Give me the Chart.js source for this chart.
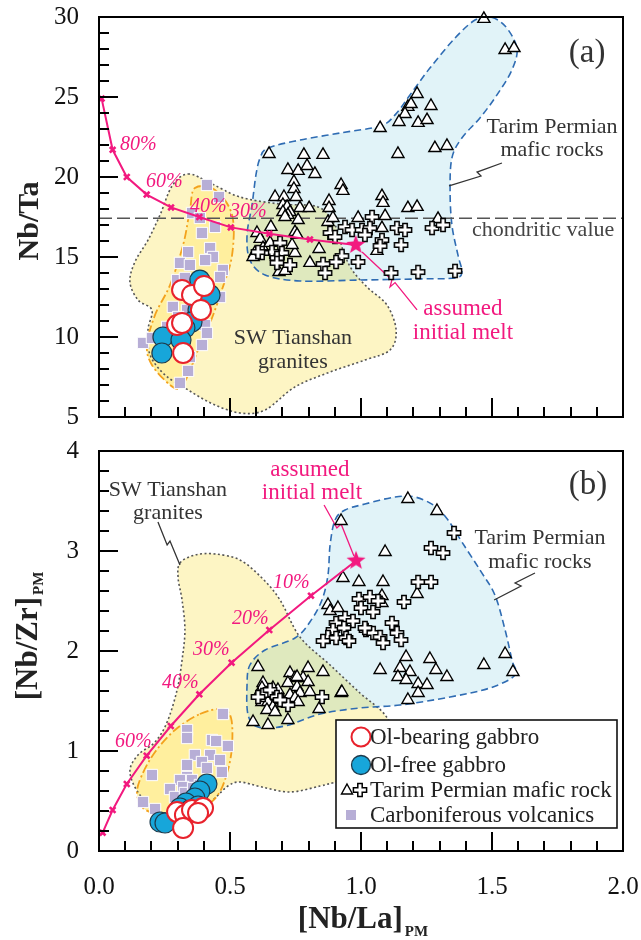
<!DOCTYPE html>
<html>
<head>
<meta charset="utf-8">
<script src="https://cdn.jsdelivr.net/npm/chart.js@4.4.0/dist/chart.umd.min.js"></script>
<style>
html, body { margin: 0; padding: 0; background: #fff; }
#wrapA { position: absolute; left: 0; top: 0; width: 641px; height: 432px; }
#wrapB { position: absolute; left: 0; top: 432px; width: 641px; height: 508px; }
</style>
</head>
<body>
<div id="wrapA"><canvas id="chartA"></canvas></div>
<div id="wrapB"><canvas id="chartB"></canvas></div>
<script>
var FONT = '"Liberation Serif", "Times New Roman", serif';
var MAGENTA = '#f2197f';

// shared x axis: [Nb/La]PM
var xTicks = [0, 0.5, 1.0, 1.5, 2.0];
var xTickLabels = ['0.0', '0.5', '1.0', '1.5', '2.0'];

// ---------- panel (a): Nb/Ta ----------
var yTicksA = [5, 10, 15, 20, 25, 30];
var chondriticNbTa = 17.42;

var meltA = [[0.01,24.9],[0.052,21.7],[0.106,20.0],[0.182,18.9],[0.275,18.1],[0.383,17.5],
  [0.503,16.85],[0.65,16.45],[0.805,16.1],[0.98,15.75]];

var olBearingA = [[0.317,12.94],[0.355,12.63],[0.401,13.19],[0.389,11.69],[0.298,10.75],[0.317,10.88],[0.321,9.0]];
var olFreeA = [[0.385,13.56],[0.424,12.63],[0.378,11.69],[0.355,10.94],[0.328,10.56],[0.244,10.0],[0.240,9.0],[0.313,9.81]];

var tarimTriA = [[1.469,29.88],[1.550,27.94],[1.584,28.06],[1.214,25.19],[1.179,24.38],[1.191,24.56],[1.168,23.94],
  [1.267,24.44],[1.145,23.44],[1.218,23.38],[1.252,23.56],[1.073,23.06],[1.282,21.81],[1.328,21.94],[1.141,21.44],
  [0.855,21.38],[0.924,19.5],[0.931,19.13],[1.080,18.81],[1.084,18.38],[0.878,18.5],[0.878,18.06],[1.179,18.06],
  [1.214,18.13],[0.649,21.44],[0.782,21.38],[0.721,20.44],[0.760,20.38],[0.794,20.69],[0.824,20.19],[0.744,19.69],
  [0.744,19.25],[0.672,18.75],[0.706,18.75],[0.752,18.75],[0.702,18.25],[0.718,18.13],[0.767,18.06],[0.802,18.06],
  [0.729,17.81],[0.721,17.63],[0.702,17.81],[0.760,17.31],[0.710,17.5],[0.656,16.88],[0.748,16.56],[0.756,16.38],
  [0.603,16.5],[0.615,16.13],[0.874,17.19],[0.893,17.44],[0.989,17.44],[1.092,17.56],[1.080,16.81],[1.294,17.38],
  [0.840,15.5],[1.061,15.38],[0.805,14.63],[0.687,14.06],[0.710,14.13],[0.748,15.25],[0.737,15.75],[0.626,15.56],
  [0.595,15.25],[0.653,15.88],[0.588,15.0]];

var tarimCrossA = [[1.042,17.5],[1.137,16.81],[1.168,16.69],[1.271,16.81],[1.313,17.0],[0.939,16.88],[0.966,16.69],
  [1.004,16.69],[1.034,16.81],[1.015,16.38],[0.882,16.5],[0.901,16.25],[1.080,16.06],[1.073,15.69],[1.153,15.75],
  [0.927,15.06],[0.989,14.69],[0.905,14.69],[0.855,14.56],[0.863,14.0],[1.115,14.0],[1.218,14.06],[1.359,14.13],
  [0.691,15.88],[0.698,15.25],[0.660,15.31],[0.622,15.25],[0.729,14.5],[0.679,14.94],[0.607,15.31],[0.679,14.63]];

var carbVolcA = [[0.412,19.5],[0.458,18.75],[0.355,17.75],[0.385,17.44],[0.443,16.88],[0.393,16.5],[0.340,15.31],
  [0.424,15.56],[0.435,15.0],[0.405,14.81],[0.309,14.63],[0.347,14.5],[0.473,14.19],[0.462,13.75],[0.298,13.56],
  [0.328,13.69],[0.462,12.5],[0.282,11.88],[0.336,11.69],[0.302,11.25],[0.405,10.75],[0.412,10.25],[0.393,9.5],
  [0.168,9.63],[0.202,9.94],[0.347,8.75],[0.340,7.88],[0.309,7.13],[0.282,10.25],[0.260,10.63]];

var graniteFieldA = [[0.340,20.19],[0.424,19.63],[0.538,18.75],[0.691,18.31],[0.836,18.13],[0.901,17.0],[0.931,15.44],
  [0.966,14.19],[1.027,13.06],[1.099,12.0],[1.134,10.44],[1.111,9.19],[1.015,8.56],[0.882,7.81],[0.748,6.88],
  [0.634,5.44],[0.538,5.25],[0.435,5.81],[0.340,6.69],[0.252,7.63],[0.195,8.88],[0.187,10.44],[0.202,11.69],
  [0.149,12.31],[0.118,13.44],[0.137,14.69],[0.187,16.06],[0.233,17.63],[0.279,19.44]];
var tarimFieldA = [[0.645,21.81],[0.767,22.31],[0.920,22.75],[1.073,23.19],[1.130,23.88],[1.187,25.13],[1.263,26.81],
  [1.359,28.69],[1.435,29.81],[1.492,30.0],[1.550,29.44],[1.595,28.06],[1.576,26.69],[1.519,25.13],[1.454,23.69],
  [1.385,22.44],[1.347,21.19],[1.340,19.19],[1.347,17.0],[1.370,15.13],[1.385,14.06],[1.359,13.69],[1.225,13.63],
  [0.996,13.56],[0.767,13.5],[0.634,13.88],[0.576,14.81],[0.565,16.38],[0.584,18.25],[0.599,20.13],[0.615,21.19]];
var volcFieldA = [[0.366,19.31],[0.443,19.19],[0.508,17.63],[0.508,15.13],[0.469,12.94],[0.424,10.88],[0.378,9.19],
  [0.340,7.63],[0.309,6.81],[0.271,7.0],[0.202,8.25],[0.183,9.5],[0.214,11.38],[0.271,13.25],[0.321,15.75],[0.347,17.94]];

// ---------- panel (b): [Nb/Zr]PM ----------
var yTicksB = [0, 1, 2, 3, 4];

var meltB = [[0.014,0.183],[0.052,0.41],[0.106,0.67],[0.182,0.953],[0.274,1.25],[0.383,1.567],[0.506,1.883],
  [0.650,2.21],[0.809,2.553],[0.981,2.903]];

var olBearingB = [[0.298,0.39],[0.328,0.36],[0.355,0.41],[0.397,0.43],[0.378,0.38],[0.321,0.23]];
var olFreeB = [[0.412,0.67],[0.385,0.60],[0.366,0.53],[0.332,0.48],[0.309,0.43],[0.233,0.29],[0.252,0.28],[0.378,0.45],[0.347,0.41]];

var tarimTriB = [[1.179,3.52],[1.290,3.40],[0.924,3.30],[1.092,2.99],[0.931,2.73],[0.992,2.69],[1.084,2.69],[1.214,2.57],
  [1.080,2.55],[1.080,2.48],[0.874,2.46],[0.882,2.40],[0.912,2.43],[1.172,1.94],[1.263,1.92],[1.550,1.97],[1.469,1.86],
  [1.580,1.79],[1.073,1.81],[1.149,1.83],[1.187,1.79],[1.141,1.74],[1.172,1.71],[1.286,1.81],[1.328,1.74],[1.218,1.67],
  [1.252,1.66],[1.218,1.58],[1.179,1.51],[0.855,1.79],[0.924,1.58],[0.607,1.84],[0.729,1.78],[0.748,1.73],[0.798,1.83],
  [0.779,1.73],[0.798,1.69],[0.626,1.68],[0.622,1.63],[0.664,1.63],[0.683,1.61],[0.721,1.68],[0.756,1.64],[0.767,1.58],
  [0.805,1.59],[0.927,1.59],[0.607,1.56],[0.622,1.49],[0.645,1.49],[0.664,1.44],[0.698,1.51],[0.710,1.48],[0.729,1.56],
  [0.748,1.53],[0.760,1.49],[0.641,1.41],[0.672,1.39],[0.721,1.31],[0.645,1.26],[0.588,1.29],[0.840,1.42],[0.756,1.74]];

var tarimCrossB = [[1.355,3.18],[1.267,3.03],[1.313,2.98],[1.218,2.69],[1.267,2.69],[1.164,2.49],[0.992,2.52],[1.034,2.54],
  [1.065,2.50],[1.0,2.43],[1.046,2.39],[1.118,2.28],[0.939,2.33],[0.969,2.30],[0.905,2.28],[0.893,2.21],[0.935,2.23],
  [0.874,2.14],[0.905,2.13],[0.943,2.13],[1.019,2.21],[1.046,2.18],[1.073,2.14],[1.084,2.08],[1.137,2.18],[1.153,2.11],
  [1.015,2.23],[0.626,1.56],[0.653,1.61],[0.679,1.54],[0.721,1.46],[0.851,1.54],[0.607,1.54],[0.691,1.51],[0.855,2.10],[0.954,2.10]];

var carbVolcB = [[0.473,1.37],[0.336,1.21],[0.336,1.13],[0.431,1.11],[0.447,1.10],[0.492,1.05],[0.366,0.96],[0.424,0.96],
  [0.462,0.91],[0.336,0.86],[0.393,0.89],[0.412,0.83],[0.469,0.79],[0.202,0.76],[0.336,0.74],[0.309,0.71],[0.355,0.71],
  [0.321,0.64],[0.385,0.66],[0.271,0.62],[0.290,0.54],[0.168,0.49],[0.214,0.42],[0.328,0.58],[0.359,0.63]];

var graniteFieldB = [[0.309,2.88],[0.366,2.96],[0.443,2.97],[0.538,2.91],[0.622,2.73],[0.691,2.51],[0.767,2.14],[0.882,1.86],
  [0.996,1.58],[1.092,1.36],[1.130,1.11],[1.092,0.81],[0.920,0.70],[0.844,0.65],[0.729,0.59],[0.622,0.64],[0.538,0.69],
  [0.492,0.65],[0.443,0.53],[0.385,0.41],[0.233,0.39],[0.156,0.56],[0.118,0.79],[0.149,0.96],[0.214,1.09],[0.260,1.29],
  [0.298,1.61],[0.317,1.91],[0.328,2.21],[0.317,2.51],[0.302,2.73]];
var tarimFieldB = [[0.901,3.31],[0.939,3.41],[1.015,3.47],[1.130,3.54],[1.206,3.54],[1.282,3.45],[1.332,3.31],[1.385,3.09],
  [1.454,2.81],[1.511,2.56],[1.550,2.21],[1.576,1.91],[1.588,1.76],[1.492,1.63],[1.340,1.54],[1.149,1.46],[0.996,1.43],
  [0.844,1.37],[0.710,1.25],[0.607,1.24],[0.569,1.36],[0.565,1.66],[0.576,1.86],[0.634,2.01],[0.748,2.13],[0.805,2.29],
  [0.851,2.51],[0.874,2.76],[0.882,3.06]];
var volcFieldB = [[0.385,1.37],[0.469,1.42],[0.504,1.33],[0.508,1.06],[0.492,0.81],[0.454,0.56],[0.385,0.41],[0.309,0.33],
  [0.233,0.36],[0.168,0.43],[0.145,0.58],[0.164,0.76],[0.214,0.99],[0.290,1.21]];

var legendLabels = ['Ol-bearing gabbro', 'Ol-free gabbro', 'Tarim Permian mafic rock', 'Carboniferous volcanics'];

// ---------- marker images ----------
function makePlus() {
  var c = document.createElement('canvas');
  c.width = 16; c.height = 16;
  var g = c.getContext('2d');
  var m = 8, L = 6.6, w = 2.2;
  g.beginPath();
  g.moveTo(m - w, m - L); g.lineTo(m + w, m - L); g.lineTo(m + w, m - w); g.lineTo(m + L, m - w);
  g.lineTo(m + L, m + w); g.lineTo(m + w, m + w); g.lineTo(m + w, m + L); g.lineTo(m - w, m + L);
  g.lineTo(m - w, m + w); g.lineTo(m - L, m + w); g.lineTo(m - L, m - w); g.lineTo(m - w, m - w);
  g.closePath();
  g.fillStyle = '#fff'; g.fill();
  g.lineWidth = 1.5; g.strokeStyle = '#000'; g.stroke();
  return c;
}
function makeStar() {
  var c = document.createElement('canvas');
  c.width = 22; c.height = 22;
  var g = c.getContext('2d');
  g.beginPath();
  for (var i = 0; i < 10; i++) {
    var r = i % 2 ? 4.2 : 10;
    var a = -Math.PI / 2 + i * Math.PI / 5;
    g.lineTo(11 + r * Math.cos(a), 11 + r * Math.sin(a));
  }
  g.closePath();
  g.fillStyle = MAGENTA; g.fill();
  return c;
}
var plusImg = makePlus();
var starImg = makeStar();

function pts(a) { return a.map(function (p) { return { x: p[0], y: p[1] }; }); }

// ---------- decorations (fields, lines, labels) in data units ----------
var decor = {
  chartA: {
    regions: [
      { pts: graniteFieldA, fill: '#fdf5c4', stroke: '#555', dash: [2, 2.5], width: 1.6 },
      { pts: tarimFieldA, fill: '#e1f3f8', blend: 'multiply', stroke: '#2f6cb3', dash: [7, 4], width: 1.6 },
      { pts: volcFieldA, fill: '#ffef9e', stroke: '#f3a21d', dash: [9, 3, 2, 3], width: 1.8 }
    ],
    hline: { y: chondriticNbTa },
    leaders: [
      { pts: [[1.538,20.875],[1.443,20.31],[1.458,20.06],[1.336,19.44]], color: '#333' },
      { pts: [[1.004,15.31],[1.118,13.56],[1.111,13.13],[1.13,13.4],[1.214,11.69]], color: MAGENTA }
    ],
    texts: [
      { x: 1.863, y: 27.75, t: '(a)', size: 33, color: '#333' },
      { x: 1.729, y: 23.125, t: 'Tarim Permian', size: 22, color: '#333' },
      { x: 1.729, y: 21.69, t: 'mafic rocks', size: 22, color: '#333' },
      { x: 1.695, y: 16.69, t: 'chondritic value', size: 22, color: '#444' },
      { x: 0.740, y: 9.94, t: 'SW Tianshan', size: 22, color: '#333' },
      { x: 0.740, y: 8.44, t: 'granites', size: 22, color: '#333' },
      { x: 1.389, y: 11.75, t: 'assumed', size: 23, color: MAGENTA },
      { x: 1.389, y: 10.25, t: 'initial melt', size: 23, color: MAGENTA },
      { x: 0.080, y: 22.0, t: '80%', size: 20, color: MAGENTA, italic: true, align: 'left' },
      { x: 0.179, y: 19.69, t: '60%', size: 20, color: MAGENTA, italic: true, align: 'left' },
      { x: 0.347, y: 18.13, t: '40%', size: 20, color: MAGENTA, italic: true, align: 'left' },
      { x: 0.500, y: 17.81, t: '30%', size: 20, color: MAGENTA, italic: true, align: 'left' }
    ],
    yMinor: 1, yMajor: 5
  },
  chartB: {
    regions: [
      { pts: graniteFieldB, fill: '#fdf5c4', stroke: '#555', dash: [2, 2.5], width: 1.6 },
      { pts: tarimFieldB, fill: '#e1f3f8', blend: 'multiply', stroke: '#2f6cb3', dash: [7, 4], width: 1.6 },
      { pts: volcFieldB, fill: '#ffef9e', stroke: '#f3a21d', dash: [9, 3, 2, 3], width: 1.8 }
    ],
    leaders: [
      { pts: [[0.225,3.29],[0.260,3.06],[0.271,3.10],[0.309,2.86]], color: '#333' },
      { pts: [[1.664,2.78],[1.588,2.68],[1.611,2.65],[1.508,2.51]], color: '#333' },
      { pts: [[0.859,3.46],[0.908,3.23],[0.924,3.27],[0.973,2.95]], color: MAGENTA }
    ],
    texts: [
      { x: 1.866, y: 3.66, t: '(b)', size: 33, color: '#333' },
      { x: 1.683, y: 3.13, t: 'Tarim Permian', size: 22, color: '#333' },
      { x: 1.683, y: 2.89, t: 'mafic rocks', size: 22, color: '#333' },
      { x: 0.263, y: 3.61, t: 'SW Tianshan', size: 22, color: '#333' },
      { x: 0.263, y: 3.38, t: 'granites', size: 22, color: '#333' },
      { x: 0.805, y: 3.81, t: 'assumed', size: 23, color: MAGENTA },
      { x: 0.813, y: 3.58, t: 'initial melt', size: 23, color: MAGENTA },
      { x: 0.664, y: 2.68, t: '10%', size: 20, color: MAGENTA, italic: true, align: 'left' },
      { x: 0.508, y: 2.32, t: '20%', size: 20, color: MAGENTA, italic: true, align: 'left' },
      { x: 0.359, y: 2.01, t: '30%', size: 20, color: MAGENTA, italic: true, align: 'left' },
      { x: 0.240, y: 1.68, t: '40%', size: 20, color: MAGENTA, italic: true, align: 'left' },
      { x: 0.061, y: 1.09, t: '60%', size: 20, color: MAGENTA, italic: true, align: 'left' }
    ],
    yMinor: 0.2, yMajor: 1, legend: true
  }
};

function smoothClosed(ctx, p) {
  var n = p.length;
  ctx.moveTo(p[0][0], p[0][1]);
  for (var i = 0; i < n; i++) {
    var p0 = p[(i - 1 + n) % n], p1 = p[i], p2 = p[(i + 1) % n], p3 = p[(i + 2) % n];
    ctx.bezierCurveTo(p1[0] + (p2[0] - p0[0]) / 6, p1[1] + (p2[1] - p0[1]) / 6,
                      p2[0] - (p3[0] - p1[0]) / 6, p2[1] - (p3[1] - p1[1]) / 6, p2[0], p2[1]);
  }
  ctx.closePath();
}

function isMultiple(v, step) {
  var r = v / step;
  return Math.abs(r - Math.round(r)) < 1e-6;
}

function drawFrame(chart, d) {
  var ctx = chart.ctx, a = chart.chartArea, xs = chart.scales.x, ys = chart.scales.y;
  ctx.save();
  ctx.setLineDash([]);
  ctx.globalCompositeOperation = 'source-over';
  ctx.strokeStyle = '#000000';
  ctx.lineWidth = 2;
  ctx.beginPath();
  ctx.rect(a.left, a.top, a.right - a.left, a.bottom - a.top);
  var v, p, len;
  for (v = 0.1; v < 2 - 1e-6; v += 0.1) {
    p = Math.round(xs.getPixelForValue(v));
    len = isMultiple(v, 0.5) ? 19 : 10;
    ctx.moveTo(p, a.bottom); ctx.lineTo(p, a.bottom - len);
  }
  for (v = ys.min + d.yMinor; v < ys.max - 1e-6; v += d.yMinor) {
    p = Math.round(ys.getPixelForValue(v));
    len = isMultiple(v, d.yMajor) ? 19 : 10;
    ctx.moveTo(a.left, p); ctx.lineTo(a.left + len, p);
  }
  ctx.stroke();
  ctx.restore();
}

var decorPlugin = {
  id: 'decor',
  beforeDatasetsDraw: function (chart) {
    var d = decor[chart.canvas.id];
    var ctx = chart.ctx, a = chart.chartArea, xs = chart.scales.x, ys = chart.scales.y;
    ctx.save();
    ctx.beginPath();
    ctx.rect(a.left, a.top, a.right - a.left, a.bottom - a.top);
    ctx.clip();
    var px = function (p) { return [xs.getPixelForValue(p[0]), ys.getPixelForValue(p[1])]; };
    d.regions.forEach(function (r) {
      ctx.save();
      ctx.globalCompositeOperation = r.blend || 'source-over';
      ctx.beginPath();
      smoothClosed(ctx, r.pts.map(px));
      ctx.fillStyle = r.fill;
      ctx.fill();
      ctx.restore();
    });
    d.regions.forEach(function (r) {
      ctx.beginPath();
      smoothClosed(ctx, r.pts.map(px));
      ctx.setLineDash(r.dash);
      ctx.lineWidth = r.width;
      ctx.strokeStyle = r.stroke;
      ctx.stroke();
    });
    if (d.hline) {
      var yy = ys.getPixelForValue(d.hline.y);
      ctx.beginPath();
      ctx.setLineDash([13, 5]);
      ctx.lineWidth = 1.6;
      ctx.strokeStyle = '#555';
      ctx.moveTo(a.left, yy);
      ctx.lineTo(a.right, yy);
      ctx.stroke();
    }
    ctx.setLineDash([]);
    d.leaders.forEach(function (l) {
      ctx.beginPath();
      l.pts.map(px).forEach(function (q, i) { if (i) ctx.lineTo(q[0], q[1]); else ctx.moveTo(q[0], q[1]); });
      ctx.lineWidth = 1.3;
      ctx.strokeStyle = l.color;
      ctx.stroke();
    });
    ctx.restore();
  },
  afterDatasetsDraw: function (chart) {
    var d = decor[chart.canvas.id];
    var ctx = chart.ctx, xs = chart.scales.x, ys = chart.scales.y;
    ctx.save();
    d.texts.forEach(function (t) {
      ctx.font = (t.italic ? 'italic ' : '') + t.size + 'px ' + FONT;
      ctx.fillStyle = t.color;
      ctx.textAlign = t.align || 'center';
      ctx.textBaseline = 'middle';
      ctx.fillText(t.t, xs.getPixelForValue(t.x), ys.getPixelForValue(t.y));
    });
    if (d.legend) drawLegend(ctx);
    ctx.restore();
    drawFrame(chart, d);
    drawTitles(chart);
  }
};

function drawTitles(chart) {
  var ctx = chart.ctx;
  ctx.save();
  ctx.fillStyle = '#222';
  ctx.textBaseline = 'alphabetic';
  if (chart.canvas.id === 'chartA') {
    ctx.translate(38, 221);
    ctx.rotate(-Math.PI / 2);
    ctx.font = 'bold 30px ' + FONT;
    ctx.textAlign = 'center';
    ctx.fillText('Nb/Ta', 0, 0);
  } else {
    subTitle(ctx, '[Nb/La]', 'PM', 363, 496, 0, 8);
    subTitle(ctx, '[Nb/Zr]', 'PM', 37, 204, -Math.PI / 2, 6);
  }
  ctx.restore();
}

function subTitle(ctx, main, sub, cx, cy, rot, drop) {
  ctx.save();
  ctx.translate(cx, cy);
  ctx.rotate(rot);
  ctx.textAlign = 'left';
  ctx.font = 'bold 31px ' + FONT;
  var w1 = ctx.measureText(main).width;
  ctx.font = 'bold 15px ' + FONT;
  var w2 = ctx.measureText(sub).width;
  var x0 = -(w1 + w2 + 2) / 2;
  ctx.font = 'bold 31px ' + FONT;
  ctx.fillText(main, x0, 0);
  ctx.font = 'bold 15px ' + FONT;
  ctx.fillText(sub, x0 + w1 + 2, drop);
  ctx.restore();
}

function drawLegend(ctx) {
  var L = 336, T = 288, W = 281, H = 108;
  ctx.fillStyle = '#fff';
  ctx.fillRect(L, T, W, H);
  ctx.lineWidth = 1.6;
  ctx.strokeStyle = '#111';
  ctx.strokeRect(L, T, W, H);
  var rows = [305, 333, 358, 383];
  ctx.beginPath(); ctx.arc(361, rows[0], 9.5, 0, Math.PI * 2);
  ctx.fillStyle = '#fff'; ctx.fill(); ctx.lineWidth = 2; ctx.strokeStyle = '#e8222c'; ctx.stroke();
  ctx.beginPath(); ctx.arc(361, rows[1], 9.5, 0, Math.PI * 2);
  ctx.fillStyle = '#17a6da'; ctx.fill(); ctx.lineWidth = 1.3; ctx.strokeStyle = '#1d3b4d'; ctx.stroke();
  ctx.beginPath();
  ctx.moveTo(347, rows[2] - 6); ctx.lineTo(352.5, rows[2] + 4); ctx.lineTo(341.5, rows[2] + 4); ctx.closePath();
  ctx.fillStyle = '#fff'; ctx.fill(); ctx.lineWidth = 1.4; ctx.strokeStyle = '#000'; ctx.stroke();
  ctx.drawImage(plusImg, 360 - 8, rows[2] - 8);
  ctx.fillStyle = '#b7aed6';
  ctx.fillRect(351 - 5, rows[3] - 5, 10, 10);
  ctx.font = '23px ' + FONT;
  ctx.fillStyle = '#222';
  ctx.textAlign = 'left';
  ctx.textBaseline = 'middle';
  legendLabels.forEach(function (s, i) { ctx.fillText(s, 370, rows[i] + 1); });
}

function makeDatasets(melt, olBearing, olFree, tri, cross, volc) {
  var last = melt.length - 1;
  return [
    {
      data: pts(melt), showLine: true, borderColor: MAGENTA, borderWidth: 2, tension: 0,
      pointStyle: function (c) { return c.dataIndex === last ? starImg : 'crossRot'; },
      pointRadius: 4, pointBorderWidth: 2.6, pointBorderColor: MAGENTA, pointBackgroundColor: MAGENTA, clip: false
    },
    { data: pts(olBearing), pointStyle: 'circle', pointRadius: 10, backgroundColor: '#fff',
      borderColor: '#e8222c', borderWidth: 2, clip: false },
    { data: pts(olFree), pointStyle: 'circle', pointRadius: 10, backgroundColor: '#17a6da',
      borderColor: '#1d3b4d', borderWidth: 1.2, clip: false },
    { data: pts(cross), pointStyle: plusImg, pointRadius: 6, clip: false },
    { data: pts(tri), pointStyle: 'triangle', pointRadius: 7, backgroundColor: '#fff',
      borderColor: '#000', borderWidth: 1.4, clip: false },
    { data: pts(volc), pointStyle: 'rect', pointRadius: 8, backgroundColor: '#b7aed6',
      borderColor: '#fff', borderWidth: 1, clip: false }
  ];
}

function makeOptions(yMin, yMax, yTicks, showXLabels, xHeight, padTop) {
  return {
    responsive: true,
    maintainAspectRatio: false,
    animation: false,
    devicePixelRatio: 1,
    layout: { padding: { left: 0, right: 18, top: padTop, bottom: 0 } },
    plugins: { legend: { display: false }, tooltip: { enabled: false } },
    events: [],
    scales: {
      x: {
        type: 'linear', min: 0, max: 2,
        grid: { display: false, drawTicks: false },
        border: { display: false },
        afterBuildTicks: function (s) { s.ticks = xTicks.map(function (v) { return { value: v }; }); },
        afterFit: function (s) { s.height = xHeight; s.paddingLeft = 0; s.paddingRight = 0; },
        ticks: {
          display: showXLabels, padding: 21, color: '#111', maxRotation: 0,
          font: { family: FONT, size: 25 },
          callback: function (v) { var i = xTicks.indexOf(v); return i < 0 ? '' : xTickLabels[i]; }
        }
      },
      y: {
        type: 'linear', min: yMin, max: yMax,
        grid: { display: false, drawTicks: false },
        border: { display: false },
        afterBuildTicks: function (s) { s.ticks = yTicks.map(function (v) { return { value: v }; }); },
        afterFit: function (s) { s.width = 99; s.paddingTop = 0; s.paddingBottom = 0; },
        ticks: {
          padding: 20, color: '#111',
          font: { family: FONT, size: 25 },
          callback: function (v) { return String(v); }
        }
      }
    }
  };
}

Chart.register(decorPlugin);

new Chart(document.getElementById('chartA'), {
  type: 'scatter',
  data: { datasets: makeDatasets(meltA, olBearingA, olFreeA, tarimTriA, tarimCrossA, carbVolcA) },
  options: makeOptions(5, 30, yTicksA, false, 15, 17)
});

new Chart(document.getElementById('chartB'), {
  type: 'scatter',
  data: { datasets: makeDatasets(meltB, olBearingB, olFreeB, tarimTriB, tarimCrossB, carbVolcB) },
  options: makeOptions(0, 4, yTicksB, true, 89, 19)
});
</script>
</body>
</html>
